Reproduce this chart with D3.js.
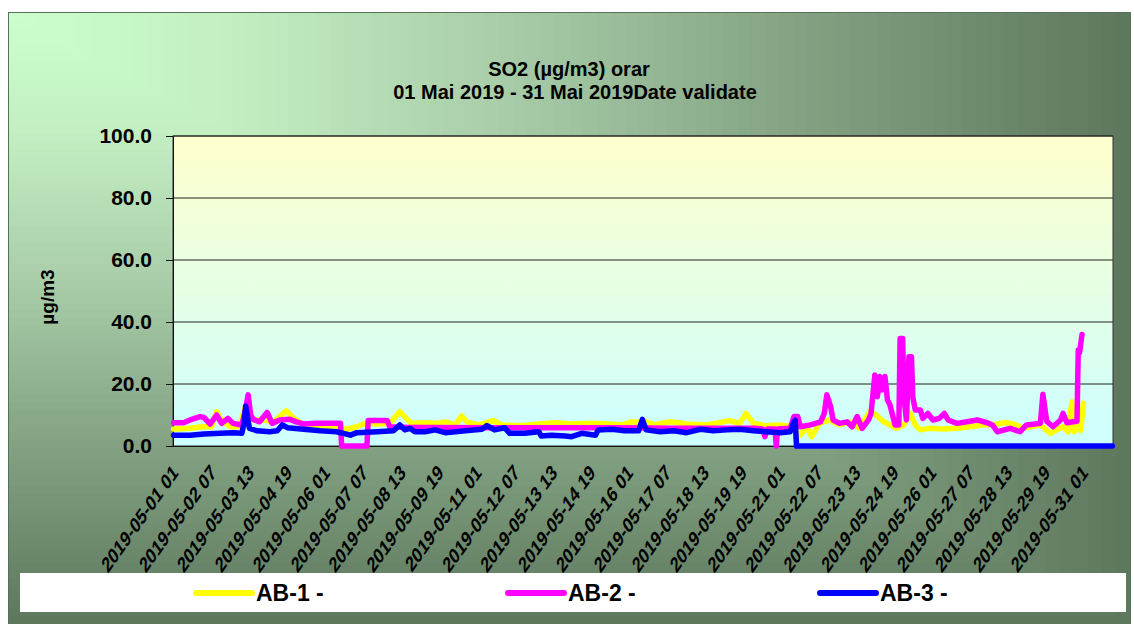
<!DOCTYPE html>
<html>
<head>
<meta charset="utf-8">
<script src="https://cdn.jsdelivr.net/npm/d3@7"></script>
<style>
  body { margin: 0; background: #fff; }
  text { font-family: "Liberation Sans", Arial, sans-serif; font-weight: bold; }
</style>
</head>
<body>
<script>
const width = 1134;
const height = 624;
const plot = { left: 173, right: 1113, top: 136, bottom: 446 };

// hour index (0 = 2019-05-01 01) -> SO2 value
const ab1 = [[0,5.5],[13,5.7],[23,6.2],[30,6.2],[34,11.1],[39,7.8],[45,6.2],[52,6.2],[57,13],[63,8.4],[71,8.4],[79,7.8],[84,9.5],[89,11.4],[95,8.9],[103,6.8],[116,6.5],[129,6.2],[137,5.4],[145,6.2],[153,7.5],[161,7.1],[171,7.3],[179,11.1],[184,9],[188,7.3],[199,7.5],[209,7.3],[215,7.8],[223,6.8],[228,9.7],[232,7.8],[241,6.8],[253,8.2],[260,6.8],[275,6.5],[289,7.1],[302,7.5],[315,7.1],[331,7.3],[344,7.1],[355,6.8],[362,7.8],[370,7.5],[374,7.8],[380,6.8],[393,7.8],[406,7.1],[422,6.8],[440,8.2],[448,7.3],[453,10.5],[459,7.3],[469,6.5],[480,6.8],[490,6.2],[496,3.5],[501,6.2],[505,3],[511,7.3],[519,8.4],[527,6.8],[535,7.8],[543,5.7],[551,11.1],[556,10],[562,7.8],[567,6.8],[572,5.7],[578,6.8],[583,10.5],[587,6.8],[591,5.2],[599,5.7],[609,5.5],[620,5.7],[630,6.2],[641,6.8],[651,7],[659,7.6],[667,6.8],[672,5.7],[678,6.2],[686,6.8],[694,4.1],[699,5.2],[704,6.2],[708,4.6],[711,14.3],[713,4.6],[716,7.8],[718,5],[720,13.8]];

const ab2 = [[0,7.5],[8,7.5],[13,8.4],[21,9.5],[24,9.2],[29,7.1],[34,10],[38,7.3],[43,8.9],[47,7.3],[54,6.8],[57,12],[59,16.5],[61,10],[63,8.6],[68,7.8],[74,10.8],[78,7.3],[84,8.4],[92,8.6],[97,7.8],[103,7.1],[113,7.3],[124,7.3],[132,7.3],[133,0],[153,0],[154,8.2],[169,8.2],[171,6.2],[187,6],[200,6],[250,5.9],[300,5.9],[350,5.9],[400,5.7],[460,5.7],[466,5.5],[468,3],[470,5.5],[476,5.5],[477,0],[478,5.5],[488,5.7],[491,9.5],[494,9.5],[496,6.2],[504,6.8],[512,7.8],[515,10.5],[517,16.5],[520,12.7],[522,8.4],[527,7.3],[533,7.8],[537,6.2],[541,9.5],[545,5.7],[550,8.4],[552,10.5],[555,22.9],[557,15.9],[559,22.4],[561,18.1],[563,22.4],[565,14.8],[567,13.2],[571,6.8],[574,6.8],[575,34.7],[577,34.7],[578,15.9],[580,8.4],[582,28.8],[584,28.8],[585,15.9],[587,11.6],[591,11.6],[593,8.9],[597,10.5],[601,8.4],[606,8.9],[610,10.5],[613,8.4],[620,7.3],[628,7.8],[636,8.4],[644,7.5],[648,6.8],[652,4.6],[662,5.7],[670,4.6],[675,6.8],[686,7.3],[688,16.7],[691,8],[696,6.2],[702,8.4],[704,10.5],[707,7.5],[712,7.8],[715,8],[716,31],[717,30],[718,33],[719,36]];

const ab3 = [[0,3.5],[13,3.5],[24,3.9],[37,4.1],[47,4.3],[54,4.1],[56,8],[57,12.9],[59,8],[60,5.7],[66,4.9],[76,4.6],[82,4.9],[86,6.8],[90,5.9],[103,5.4],[116,4.9],[129,4.6],[140,3.5],[145,4.3],[161,4.6],[174,4.9],[179,6.8],[183,5.2],[187,5.7],[191,4.6],[199,4.6],[207,5.2],[215,4.3],[231,4.9],[244,5.4],[248,6.6],[254,5.2],[262,5.9],[266,4.1],[278,4.1],[289,4.6],[291,3.2],[299,3.5],[310,3.2],[315,3],[323,4.1],[334,3.5],[336,5.2],[347,5.4],[357,4.9],[368,4.9],[371,8.6],[374,5.2],[385,4.6],[396,4.9],[406,4.3],[417,5.4],[427,4.9],[438,5.2],[448,5.4],[459,4.9],[469,4.6],[480,4.3],[488,4.6],[491,7.8],[492,8.3],[493,0],[743,0]];

const hourCount = 744;
const xLabels = ["2019-05-01 01","2019-05-02 07","2019-05-03 13","2019-05-04 19","2019-05-06 01","2019-05-07 07","2019-05-08 13","2019-05-09 19","2019-05-11 01","2019-05-12 07","2019-05-13 13","2019-05-14 19","2019-05-16 01","2019-05-17 07","2019-05-18 13","2019-05-19 19","2019-05-21 01","2019-05-22 07","2019-05-23 13","2019-05-24 19","2019-05-26 01","2019-05-27 07","2019-05-28 13","2019-05-29 19","2019-05-31 01"];
const labelStep = 30;
const yTicks = [0, 20, 40, 60, 80, 100];

const series = [
  { name: "AB-1 -", color: "#ffff00", data: ab1, legendX: 196 },
  { name: "AB-2 -", color: "#ff00ff", data: ab2, legendX: 508 },
  { name: "AB-3 -", color: "#0000ff", data: ab3, legendX: 820 },
];

const svg = d3.select("body").append("svg")
  .attr("width", width)
  .attr("height", height);

const defs = svg.append("defs");
const plotGrad = defs.append("linearGradient").attr("id", "plotbg")
  .attr("x1", 0).attr("y1", 0).attr("x2", 0).attr("y2", 1);
plotGrad.append("stop").attr("offset", "0%").attr("stop-color", "#ffffcc");
plotGrad.append("stop").attr("offset", "100%").attr("stop-color", "#ccffff");

// background shaded from the top-left corner
const frame = { x: 8, y: 12, w: 1122, h: 612 };
const shade = d3.scaleLinear()
  .domain([0, 0.2, 0.45, 0.7, 1])
  .range(["#ccffcc", "#c3efc3", "#a8cca8", "#84a484", "#5e785e"]);
const bands = d3.range(80, 0, -1).map((k) => k / 80);
svg.append("g").selectAll("rect").data(bands).join("rect")
  .attr("x", frame.x).attr("y", frame.y)
  .attr("width", (s) => frame.w * s).attr("height", (s) => frame.h * s)
  .attr("fill", (s) => shade(s));
svg.append("rect")
  .attr("x", frame.x + 0.5).attr("y", frame.y + 0.5)
  .attr("width", frame.w).attr("height", frame.h)
  .attr("fill", "none").attr("stroke", "#56705a");

// title
svg.append("text").attr("x", 569).attr("y", 76).attr("text-anchor", "middle")
  .attr("font-size", 20).text("SO2 (µg/m3) orar");
svg.append("text").attr("x", 575).attr("y", 99).attr("text-anchor", "middle")
  .attr("font-size", 20).text("01 Mai 2019 - 31 Mai 2019Date validate");

const x = d3.scaleLinear().domain([-0.5, hourCount - 0.5]).range([plot.left, plot.right]);
const y = d3.scaleLinear().domain([0, 100]).range([plot.bottom, plot.top]);

svg.append("rect")
  .attr("x", plot.left).attr("y", plot.top)
  .attr("width", plot.right - plot.left).attr("height", plot.bottom - plot.top)
  .attr("fill", "url(#plotbg)").attr("stroke", "#333").attr("stroke-width", 1);

svg.append("g").selectAll("line").data(yTicks.slice(1)).join("line")
  .attr("x1", plot.left).attr("x2", plot.right)
  .attr("y1", (d) => y(d)).attr("y2", (d) => y(d))
  .attr("stroke", "#222").attr("stroke-width", 1);

const yAxis = svg.append("g")
  .attr("transform", `translate(${plot.left},0)`)
  .call(d3.axisLeft(y).tickValues(yTicks).tickFormat(d3.format(".1f")).tickSize(7).tickPadding(14));
yAxis.select(".domain").attr("stroke", "#111");
yAxis.selectAll("line").attr("stroke", "#111");
yAxis.selectAll("text").attr("font-size", 21).attr("fill", "#000")
  .style("font-family", "'Liberation Sans', Arial, sans-serif").style("font-weight", "bold");

svg.append("text")
  .attr("transform", "translate(54,297) rotate(-90)")
  .attr("text-anchor", "middle").attr("font-size", 19).text("µg/m3");

const xAxis = svg.append("g")
  .attr("transform", `translate(0,${plot.bottom})`)
  .call(d3.axisBottom(x)
    .tickValues(xLabels.map((_, i) => i * labelStep))
    .tickFormat((d) => xLabels[d / labelStep])
    .tickSize(0));
xAxis.select(".domain").attr("stroke", "#111");
xAxis.selectAll("text")
  .attr("text-anchor", "end").attr("x", 0).attr("y", 0).attr("dy", 0)
  .attr("transform", "translate(5,28) scale(1,1.4) rotate(-45)")
  .attr("font-size", 15.5).attr("fill", "#000")
  .style("font-family", "'Liberation Sans', Arial, sans-serif").style("font-weight", "bold");

const line = d3.line().x((d) => x(d[0])).y((d) => y(d[1]));
svg.append("g").selectAll("path").data(series).join("path")
  .attr("d", (s) => line(s.data))
  .attr("fill", "none")
  .attr("stroke", (s) => s.color)
  .attr("stroke-width", 5.5)
  .attr("stroke-linejoin", "round")
  .attr("stroke-linecap", "round");

// legend
svg.append("rect").attr("x", 20).attr("y", 573).attr("width", 1106).attr("height", 39).attr("fill", "#fff");
const legend = svg.append("g").selectAll("g").data(series).join("g");
legend.append("line")
  .attr("x1", (s) => s.legendX).attr("x2", (s) => s.legendX + 56)
  .attr("y1", 593).attr("y2", 593)
  .attr("stroke", (s) => s.color).attr("stroke-width", 6).attr("stroke-linecap", "round");
legend.append("text")
  .attr("x", (s) => s.legendX + 60).attr("y", 601)
  .attr("font-size", 23).text((s) => s.name);
</script>
</body>
</html>
